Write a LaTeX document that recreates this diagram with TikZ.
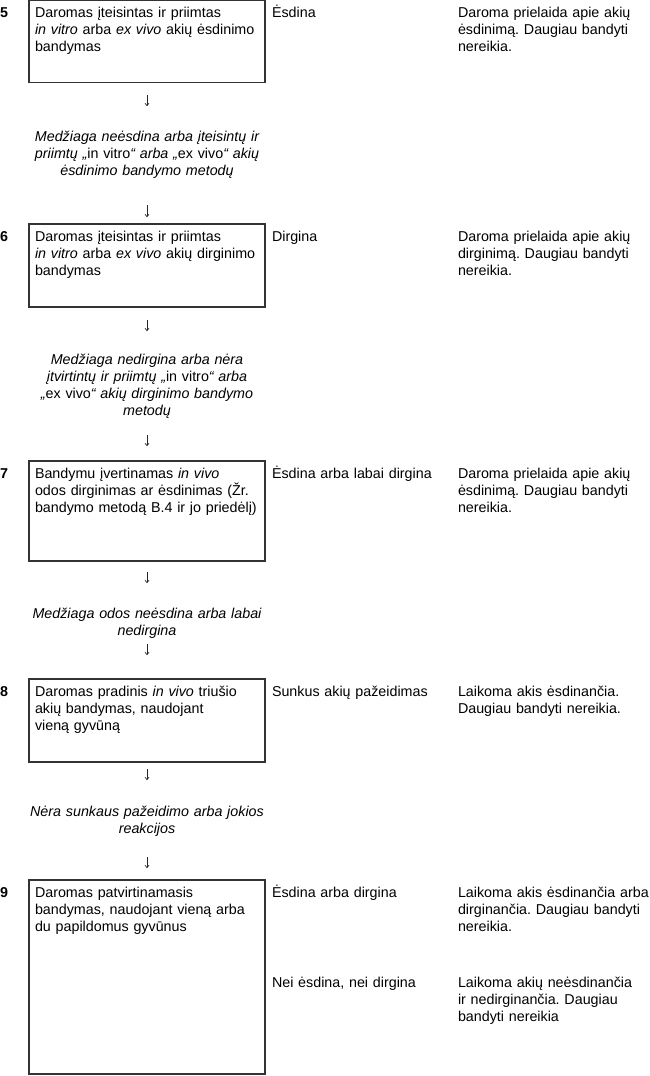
\documentclass[tikz,border=0pt]{standalone}
\usepackage{fontspec}
\setmainfont{Liberation Sans}
\usetikzlibrary{arrows.meta}
\frenchspacing
\begin{document}
\begin{tikzpicture}[x=1pt,y=-1pt,
  every node/.style={inner sep=0pt, outer sep=0pt},
  fnt/.style={font=\fontsize{14.3}{17.3}\selectfont},
  box/.style={draw=black!80, line width=1.1pt, anchor=north west, minimum width=236pt},
  boxtxt/.style={fnt, anchor=base west, align=left, text width=226pt},
  num/.style={font=\fontsize{14.3}{17.3}\selectfont\bfseries, anchor=base west},
  lbl/.style={fnt, anchor=base west, align=left, text width=180pt},
  res/.style={fnt, anchor=base west, align=left, text width=195pt},
  cond/.style={font=\fontsize{14.3}{17.3}\selectfont\itshape, anchor=base, align=center, text width=250pt},
  arr/.style={-{To[length=3pt,width=4.5pt]}, line width=0.7pt, black!85}
]
\useasboundingbox (0,0) rectangle (649,1076);

% ---- step 5
\node[num] (n5) at (0,17) {5};
\node[box, minimum height=82pt] (b5) at (29,0.5) {};
\node[boxtxt] (t5) at (35,17) {Daromas įteisintas ir priimtas\\\textit{in vitro} arba \textit{ex vivo} akių ėsdinimo\\bandymas};
\node[lbl] (l5) at (272,17) {Ėsdina};
\node[res] (r5) at (458,17) {Daroma prielaida apie akių\\ėsdinimą. Daugiau bandyti\\nereikia.};
\coordinate (a1s) at (147,95); \coordinate (a1e) at (147,106);
\draw[arr] (a1s) -- (a1e);
\node[cond] (c5) at (147,141) {Medžiaga neėsdina arba įteisintų ir\\priimtų „{\upshape in vitro}“ arba „{\upshape ex vivo}“ akių\\ėsdinimo bandymo metodų};
\coordinate (a2s) at (147,205); \coordinate (a2e) at (147,217);
\draw[arr] (a2s) -- (a2e);

% ---- step 6
\node[num] (n6) at (0,241) {6};
\node[box, minimum height=83pt] (b6) at (29,224) {};
\node[boxtxt] (t6) at (35,241) {Daromas įteisintas ir priimtas\\\textit{in vitro} arba \textit{ex vivo} akių dirginimo\\bandymas};
\node[lbl] (l6) at (272,241) {Dirgina};
\node[res] (r6) at (458,241) {Daroma prielaida apie akių\\dirginimą. Daugiau bandyti\\nereikia.};
\coordinate (a3s) at (147,320); \coordinate (a3e) at (147,331);
\draw[arr] (a3s) -- (a3e);
\node[cond] (c6) at (147,364) {Medžiaga nedirgina arba nėra\\įtvirtintų ir priimtų „{\upshape in vitro}“ arba\\„{\upshape ex vivo}“ akių dirginimo bandymo\\metodų};
\coordinate (a4s) at (147,435); \coordinate (a4e) at (147,446);
\draw[arr] (a4s) -- (a4e);

% ---- step 7
\node[num] (n7) at (0,478) {7};
\node[box, minimum height=100pt] (b7) at (29,461) {};
\node[boxtxt] (t7) at (35,478) {Bandymu įvertinamas \textit{in vivo}\\odos dirginimas ar ėsdinimas (Žr.\\bandymo metodą B.4 ir jo priedėlį)};
\node[lbl] (l7) at (272,478) {Ėsdina arba labai dirgina};
\node[res] (r7) at (458,478) {Daroma prielaida apie akių\\ėsdinimą. Daugiau bandyti\\nereikia.};
\coordinate (a5s) at (147,572); \coordinate (a5e) at (147,583);
\draw[arr] (a5s) -- (a5e);
\node[cond] (c7) at (147,618) {Medžiaga odos neėsdina arba labai\\nedirgina};
\coordinate (a6s) at (147,644); \coordinate (a6e) at (147,655);
\draw[arr] (a6s) -- (a6e);

% ---- step 8
\node[num] (n8) at (0,696) {8};
\node[box, minimum height=83pt] (b8) at (29,679) {};
\node[boxtxt] (t8) at (35,696) {Daromas pradinis \textit{in vivo} triušio\\akių bandymas, naudojant\\vieną gyvūną};
\node[lbl] (l8) at (272,696) {Sunkus akių pažeidimas};
\node[res] (r8) at (458,696) {Laikoma akis ėsdinančia.\\Daugiau bandyti nereikia.};
\coordinate (a7s) at (147,769); \coordinate (a7e) at (147,780);
\draw[arr] (a7s) -- (a7e);
\node[cond] (c8) at (147,816) {Nėra sunkaus pažeidimo arba jokios\\reakcijos};
\coordinate (a8s) at (147,857); \coordinate (a8e) at (147,868);
\draw[arr] (a8s) -- (a8e);

% ---- step 9
\node[num] (n9) at (0,897) {9};
\node[box, minimum height=194pt] (b9) at (29,880) {};
\node[boxtxt] (t9) at (35,897) {Daromas patvirtinamasis\\bandymas, naudojant vieną arba\\du papildomus gyvūnus};
\node[lbl] (l9a) at (272,897) {Ėsdina arba dirgina};
\node[res] (r9a) at (458,897) {Laikoma akis ėsdinančia arba\\dirginančia. Daugiau bandyti\\nereikia.};
\node[lbl] (l9b) at (272,987) {Nei ėsdina, nei dirgina};
\node[res] (r9b) at (458,987) {Laikoma akių neėsdinančia\\ir nedirginančia. Daugiau\\bandyti nereikia};
\end{tikzpicture}
\end{document}
